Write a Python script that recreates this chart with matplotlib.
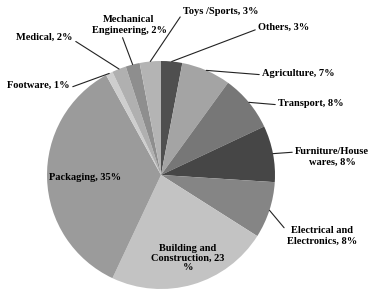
import numpy as np
import matplotlib
matplotlib.use('Agg')
import matplotlib.pyplot as plt

labels = ['Others, 3%', 'Agriculture, 7%', 'Transport, 8%', 'Furniture/House\nwares, 8%',
          'Electrical and\nElectronics, 8%', 'Building and\nConstruction, 23\n%', 'Packaging, 35%',
          'Footware, 1%', 'Medical, 2%', 'Mechanical\nEngineering, 2%', 'Toys /Sports, 3%']
values = [3, 7, 8, 8, 8, 23, 35, 1, 2, 2, 3]
colors = ['#4f4f4f', '#a4a4a4', '#777777', '#464646', '#858585', '#c3c3c3', '#9b9b9b',
          '#cecece', '#b0b0b0', '#8e8e8e', '#b4b4b4']

# label placement in pixels of the 373x295 picture (x, y), alignment, inside flag
cx, cy, R = 161, 175, 114
label_px = [(258, 27, 'left'), (262, 73, 'left'), (278, 103, 'left'), (332, 157, 'center'),
            (322, 236, 'center'), (188, 258, 'center'), (85, 178, 'center'),
            (70, 85, 'right'), (73, 37, 'right'), (129, 25, 'center'), (183, 11, 'left')]
inside = [False, False, False, False, False, True, True, False, False, False, False]

plt.rcParams['font.family'] = ['Liberation Serif', 'DejaVu Serif']

fig = plt.figure(figsize=(3.73, 2.95), dpi=100)
ax = fig.add_axes([0, 0, 1, 1])
wedges, _ = ax.pie(values, colors=colors, startangle=90, counterclock=False,
                   wedgeprops=dict(linewidth=0))
ax.set_xlim(-cx / R, (373 - cx) / R)
ax.set_ylim((cy - 295) / R, cy / R)
ax.axis('off')

def to_data(px, py):
    return (px - cx) / R, (cy - py) / R

for w, lab, (px, py, ha), ins in zip(wedges, labels, label_px, inside):
    tx, ty = to_data(px, py)
    if ins:
        ax.text(tx, ty, lab, ha='center', va='center', fontsize=7.5,
                fontweight='bold', linespacing=1.1)
        continue
    mid = np.deg2rad((w.theta1 + w.theta2) / 2)
    xy = (np.cos(mid), np.sin(mid))
    rel = {'left': (0, 0.3), 'right': (1, 0.2), 'center': (0.4, 0)}[ha]
    if lab.startswith('Furniture') or lab.startswith('Electrical'):
        rel = (0, 0.75)
    ax.annotate(lab, xy=xy, xytext=(tx, ty), ha=ha, va='center', fontsize=7.5,
                fontweight='bold', linespacing=1.25,
                arrowprops=dict(arrowstyle='-', color='#222222', lw=0.8,
                                shrinkA=0, shrinkB=0, relpos=rel))

fig.savefig('out.png', dpi=100)
